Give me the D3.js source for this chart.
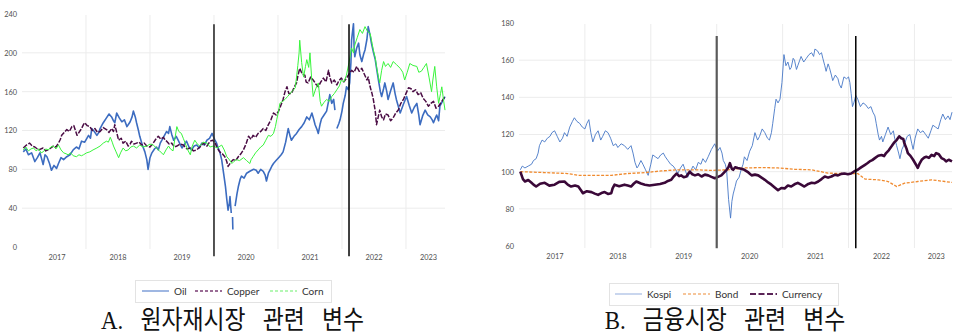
<!DOCTYPE html>
<html>
<head>
<meta charset="utf-8">
<script src="https://cdn.jsdelivr.net/npm/d3@7"></script>
<style>
  html, body { margin: 0; padding: 0; background: #fff; }
  svg { display: block; }
</style>
</head>
<body>
<svg id="chart" width="956" height="334"></svg>
<script>
// ---- Data: indices rebased to 100, x = decimal year ----
const yearTicks = [2017, 2018, 2019, 2020, 2021, 2022, 2023];
const eventYears = [2020.0, 2022.11];

// Panel A: commodity markets
const leftYTicks = [0, 40, 80, 120, 160, 200, 240];
const oilSeries = [
  [2017.02,98],[2017.06,101],[2017.10,95],[2017.15,97],[2017.20,88],[2017.24,92],[2017.28,97],[2017.31,90],[2017.33,85],[2017.36,95],
  [2017.39,93],[2017.43,86],[2017.46,79],[2017.50,84],[2017.54,81],[2017.57,86],[2017.61,92],[2017.65,90],[2017.70,93],[2017.75,95],
  [2017.80,100],[2017.85,103],[2017.89,101],[2017.93,109],[2017.98,108],[2018.04,115],[2018.07,112],[2018.09,122],[2018.13,119],[2018.17,115],
  [2018.20,118],[2018.22,122],[2018.27,128],[2018.32,133],[2018.36,137],[2018.40,134],[2018.43,130],[2018.45,128],[2018.48,138],[2018.52,133],
  [2018.56,129],[2018.60,131],[2018.64,124],[2018.67,127],[2018.69,129],[2018.72,134],[2018.74,140],[2018.77,134],[2018.79,128],[2018.82,120],
  [2018.84,114],[2018.88,105],[2018.92,98],[2018.95,90],[2018.97,80],[2019.00,92],[2019.03,97],[2019.07,101],[2019.10,103],[2019.13,100],
  [2019.16,107],[2019.21,113],[2019.26,119],[2019.29,117],[2019.31,124],[2019.34,116],[2019.37,110],[2019.41,114],[2019.44,110],[2019.47,106],
  [2019.50,102],[2019.54,106],[2019.57,109],[2019.61,103],[2019.65,100],[2019.69,104],[2019.73,105],[2019.77,102],[2019.81,107],[2019.85,105],
  [2019.89,110],[2019.93,112],[2019.97,117],[2020.01,111],[2020.04,107],[2020.07,101],[2020.09,98],[2020.12,90],[2020.15,76],[2020.18,62],
  [2020.20,49],[2020.22,38],[2020.24,45],[2020.25,52],[2020.27,35],[2020.28,null],[2020.29,31],[2020.295,18],[2020.31,null],[2020.33,42],
  [2020.36,55],[2020.38,62],[2020.41,70],[2020.43,73],[2020.47,71],[2020.51,76],[2020.56,78],[2020.62,80],[2020.66,79],[2020.69,76],
  [2020.73,80],[2020.77,78],[2020.80,74],[2020.82,68],[2020.85,76],[2020.88,80],[2020.91,84],[2020.93,86],[2020.97,89],[2021.01,92],
  [2021.05,95],[2021.08,98],[2021.12,108],[2021.16,122],[2021.19,114],[2021.21,110],[2021.25,114],[2021.29,117],[2021.33,121],[2021.37,124],
  [2021.41,128],[2021.45,134],[2021.49,131],[2021.53,138],[2021.56,131],[2021.58,126],[2021.61,121],[2021.63,117],[2021.66,127],[2021.68,132],
  [2021.72,136],[2021.76,140],[2021.79,150],[2021.81,157],[2021.84,148],[2021.87,152],[2021.89,141],[2021.90,null],[2021.92,122],[2021.95,127],
  [2021.97,131],[2022.00,140],[2022.02,148],[2022.05,156],[2022.07,165],[2022.10,162],[2022.12,169],[2022.14,190],[2022.15,213],[2022.18,230],
  [2022.19,205],[2022.20,196],[2022.23,205],[2022.26,210],[2022.28,198],[2022.31,191],[2022.34,199],[2022.36,203],[2022.39,214],[2022.41,227],
  [2022.44,218],[2022.46,210],[2022.49,201],[2022.52,193],[2022.55,180],[2022.57,172],[2022.60,160],[2022.62,155],[2022.65,163],[2022.67,169],
  [2022.70,160],[2022.72,152],[2022.76,161],[2022.80,169],[2022.83,158],[2022.85,152],[2022.88,145],[2022.91,138],[2022.96,147],[2023.01,155],
  [2023.05,146],[2023.09,138],[2023.13,144],[2023.17,148],[2023.20,136],[2023.22,126],[2023.26,135],[2023.30,141],[2023.34,136],[2023.38,134],
  [2023.41,131],[2023.43,128],[2023.46,133],[2023.48,136],[2023.51,130],[2023.53,145],[2023.57,150],[2023.61,155]
];
const copperSeries = [
  [2017.02,102],[2017.07,105],[2017.12,107],[2017.16,104],[2017.20,103],[2017.26,100],[2017.33,102],[2017.37,99],[2017.41,100],[2017.45,102],
  [2017.49,104],[2017.53,103],[2017.57,107],[2017.60,111],[2017.62,115],[2017.66,118],[2017.70,121],[2017.74,119],[2017.78,124],[2017.81,125],
  [2017.83,121],[2017.86,115],[2017.88,117],[2017.91,120],[2017.93,122],[2017.96,126],[2017.98,128],[2018.02,125],[2018.06,124],[2018.10,120],
  [2018.14,122],[2018.18,118],[2018.22,119],[2018.27,123],[2018.32,121],[2018.36,118],[2018.40,122],[2018.43,119],[2018.45,126],[2018.48,118],
  [2018.51,110],[2018.55,112],[2018.58,107],[2018.62,109],[2018.66,104],[2018.69,106],[2018.71,109],[2018.75,106],[2018.79,107],[2018.83,108],
  [2018.87,105],[2018.91,107],[2018.95,104],[2019.00,103],[2019.05,107],[2019.09,111],[2019.13,114],[2019.17,111],[2019.21,113],[2019.24,110],
  [2019.26,109],[2019.30,106],[2019.34,107],[2019.38,103],[2019.42,104],[2019.47,106],[2019.52,105],[2019.58,101],[2019.63,102],[2019.68,99],
  [2019.73,100],[2019.78,103],[2019.83,107],[2019.89,104],[2019.94,109],[2019.98,110],[2020.02,107],[2020.05,102],[2020.09,98],[2020.13,96],
  [2020.17,93],[2020.20,88],[2020.22,83],[2020.26,87],[2020.30,90],[2020.34,89],[2020.38,93],[2020.42,96],[2020.46,100],[2020.50,106],
  [2020.54,114],[2020.58,111],[2020.61,115],[2020.65,113],[2020.69,117],[2020.73,119],[2020.77,122],[2020.81,120],[2020.85,126],[2020.89,131],
  [2020.93,138],[2020.97,136],[2021.01,140],[2021.04,145],[2021.08,152],[2021.11,160],[2021.14,165],[2021.17,158],[2021.21,158],[2021.25,164],
  [2021.29,169],[2021.31,176],[2021.34,184],[2021.38,178],[2021.42,177],[2021.44,170],[2021.47,169],[2021.51,175],[2021.55,172],[2021.59,168],
  [2021.63,165],[2021.67,170],[2021.71,174],[2021.75,170],[2021.79,182],[2021.81,175],[2021.84,169],[2021.88,172],[2021.92,167],[2021.95,171],
  [2021.99,174],[2022.03,170],[2022.07,174],[2022.11,178],[2022.15,182],[2022.19,180],[2022.23,186],[2022.27,181],[2022.31,184],[2022.35,178],
  [2022.39,172],[2022.41,175],[2022.44,165],[2022.47,158],[2022.49,152],[2022.52,140],[2022.54,126],[2022.57,135],[2022.59,141],[2022.62,134],
  [2022.65,131],[2022.68,137],[2022.72,136],[2022.76,130],[2022.80,133],[2022.84,138],[2022.88,141],[2022.92,148],[2022.96,152],[2023.00,158],
  [2023.04,164],[2023.08,163],[2023.11,160],[2023.15,162],[2023.19,157],[2023.23,159],[2023.27,153],[2023.31,150],[2023.35,145],[2023.39,148],
  [2023.43,150],[2023.47,143],[2023.51,145],[2023.56,150],[2023.61,155]
];
const cornSeries = [
  [2017.02,100],[2017.06,103],[2017.10,99],[2017.14,101],[2017.18,102],[2017.22,99],[2017.26,101],[2017.30,97],[2017.33,98],[2017.37,101],
  [2017.41,100],[2017.45,103],[2017.49,104],[2017.53,101],[2017.57,105],[2017.61,100],[2017.65,97],[2017.69,96],[2017.72,95],[2017.76,97],
  [2017.80,94],[2017.85,93],[2017.89,95],[2017.93,94],[2017.96,95],[2018.01,97],[2018.06,98],[2018.11,100],[2018.17,102],[2018.22,104],
  [2018.27,107],[2018.32,109],[2018.35,108],[2018.38,113],[2018.41,108],[2018.43,104],[2018.47,98],[2018.51,92],[2018.54,97],[2018.58,102],
  [2018.62,99],[2018.66,100],[2018.70,103],[2018.74,104],[2018.79,102],[2018.84,105],[2018.89,103],[2018.95,104],[2019.00,106],[2019.05,105],
  [2019.10,102],[2019.15,99],[2019.21,95],[2019.25,100],[2019.29,104],[2019.32,101],[2019.36,99],[2019.39,112],[2019.42,124],[2019.45,119],
  [2019.49,117],[2019.52,112],[2019.55,107],[2019.59,100],[2019.63,95],[2019.66,104],[2019.70,110],[2019.74,106],[2019.78,104],[2019.83,108],
  [2019.89,107],[2019.94,103],[2019.99,104],[2020.05,102],[2020.12,105],[2020.16,100],[2020.20,93],[2020.24,90],[2020.28,86],[2020.31,88],
  [2020.35,90],[2020.40,89],[2020.46,92],[2020.51,89],[2020.56,86],[2020.58,90],[2020.61,93],[2020.65,97],[2020.69,100],[2020.73,103],
  [2020.77,105],[2020.81,110],[2020.85,115],[2020.89,114],[2020.93,117],[2020.96,124],[2020.98,131],[2021.01,140],[2021.03,148],[2021.07,150],
  [2021.11,152],[2021.15,155],[2021.19,158],[2021.23,161],[2021.27,164],[2021.29,175],[2021.31,187],[2021.33,200],[2021.34,213],[2021.37,190],
  [2021.40,175],[2021.43,186],[2021.45,193],[2021.48,185],[2021.50,200],[2021.53,170],[2021.55,155],[2021.59,163],[2021.63,169],[2021.66,150],
  [2021.68,145],[2021.72,149],[2021.76,152],[2021.80,150],[2021.84,155],[2021.88,158],[2021.92,162],[2021.96,166],[2021.99,172],[2022.03,170],
  [2022.07,177],[2022.11,190],[2022.15,205],[2022.18,200],[2022.20,208],[2022.24,216],[2022.28,224],[2022.32,220],[2022.36,227],[2022.40,222],
  [2022.44,220],[2022.47,210],[2022.49,203],[2022.52,195],[2022.54,186],[2022.57,175],[2022.59,169],[2022.62,182],[2022.65,191],[2022.68,186],
  [2022.72,189],[2022.76,185],[2022.80,191],[2022.85,188],[2022.91,184],[2022.95,180],[2022.98,172],[2023.02,180],[2023.06,189],[2023.11,187],
  [2023.17,186],[2023.20,180],[2023.24,181],[2023.28,185],[2023.32,189],[2023.36,175],[2023.40,160],[2023.42,172],[2023.45,186],[2023.48,165],
  [2023.51,148],[2023.54,158],[2023.56,165],[2023.59,150],[2023.61,141]
];

// Panel B: financial markets
const rightYTicks = [60, 80, 100, 120, 140, 160, 180];
const kospiSeries = [
  [2017.02,101],[2017.05,103],[2017.09,102],[2017.14,103],[2017.19,104],[2017.22,106],[2017.26,107],[2017.29,110],[2017.31,114],[2017.35,117],
  [2017.39,116],[2017.43,118],[2017.47,119],[2017.50,121],[2017.54,122],[2017.58,119],[2017.62,116],[2017.66,118],[2017.69,121],[2017.73,119],
  [2017.77,124],[2017.81,127],[2017.84,129],[2017.88,127],[2017.92,126],[2017.96,124],[2018.00,123],[2018.03,126],[2018.06,128],[2018.09,121],
  [2018.12,116],[2018.16,120],[2018.20,122],[2018.24,117],[2018.27,119],[2018.31,122],[2018.35,121],[2018.39,118],[2018.43,114],[2018.47,115],
  [2018.50,113],[2018.55,115],[2018.60,114],[2018.65,112],[2018.70,114],[2018.73,110],[2018.76,105],[2018.79,102],[2018.81,103],[2018.85,106],
  [2018.88,104],[2018.92,101],[2018.96,98],[2019.00,104],[2019.03,109],[2019.07,108],[2019.11,107],[2019.15,109],[2019.19,110],[2019.22,108],
  [2019.26,106],[2019.30,104],[2019.34,103],[2019.38,101],[2019.41,99],[2019.45,102],[2019.49,104],[2019.53,100],[2019.56,97],[2019.60,100],
  [2019.64,103],[2019.68,101],[2019.72,105],[2019.76,104],[2019.79,107],[2019.83,105],[2019.87,108],[2019.92,112],[2019.97,115],[2020.01,111],
  [2020.05,113],[2020.08,110],[2020.10,106],[2020.13,104],[2020.15,101],[2020.18,85],[2020.21,75],[2020.23,84],[2020.25,88],[2020.28,92],
  [2020.30,95],[2020.34,97],[2020.37,101],[2020.40,104],[2020.42,108],[2020.46,106],[2020.50,111],[2020.54,114],[2020.58,121],[2020.62,117],
  [2020.65,119],[2020.69,123],[2020.73,121],[2020.77,118],[2020.80,117],[2020.83,121],[2020.85,126],[2020.88,134],[2020.90,139],[2020.93,137],
  [2020.96,139],[2020.99,148],[2021.01,158],[2021.02,163],[2021.05,157],[2021.08,159],[2021.11,155],[2021.13,156],[2021.16,161],[2021.18,160],
  [2021.21,155],[2021.23,157],[2021.26,160],[2021.28,162],[2021.32,159],[2021.36,161],[2021.40,163],[2021.44,164],[2021.47,162],[2021.49,166],
  [2021.53,165],[2021.56,163],[2021.59,164],[2021.61,161],[2021.64,157],[2021.66,154],[2021.69,158],[2021.71,156],[2021.74,152],[2021.76,149],
  [2021.80,152],[2021.84,150],[2021.86,147],[2021.89,145],[2021.93,151],[2021.97,150],[2022.00,151],[2022.02,148],[2022.04,142],[2022.06,135],
  [2022.08,137],[2022.11,141],[2022.14,139],[2022.18,135],[2022.22,137],[2022.26,136],[2022.30,134],[2022.34,135],[2022.37,132],[2022.40,130],
  [2022.42,126],[2022.45,120],[2022.47,117],[2022.50,119],[2022.52,116],[2022.56,120],[2022.60,124],[2022.64,120],[2022.68,122],[2022.70,118],
  [2022.73,114],[2022.76,110],[2022.78,107],[2022.81,112],[2022.85,115],[2022.89,119],[2022.93,120],[2022.96,115],[2022.98,112],[2023.01,118],
  [2023.05,123],[2023.09,121],[2023.13,122],[2023.17,120],[2023.21,118],[2023.25,122],[2023.28,125],[2023.32,124],[2023.36,123],[2023.40,128],
  [2023.43,131],[2023.47,128],[2023.51,130],[2023.54,128],[2023.57,132]
];
const bondSeries = [
  [2017.02,100],[2017.39,99.5],[2017.74,99],[2017.90,98],[2018.15,98],[2018.40,98],[2018.65,99],[2018.91,99.5],
  [2019.16,100.4],[2019.41,101],[2019.67,101],[2019.92,100.7],[2020.17,101],[2020.42,102],[2020.68,102.2],[2020.93,102],
  [2021.18,101.3],[2021.44,101],[2021.69,99.2],[2021.94,99],[2022.14,99],[2022.25,96],[2022.45,95.6],[2022.60,94.7],
  [2022.73,92],[2022.85,93.8],[2023.05,94.7],[2023.26,95.6],[2023.46,94.7],[2023.57,94.2]
];
const currencySeries = [
  [2017.02,100],[2017.06,96],[2017.09,94.7],[2017.14,95.5],[2017.19,94],[2017.22,93],[2017.26,92],[2017.32,93.5],[2017.39,94],[2017.46,92.5],
  [2017.54,93],[2017.61,94.5],[2017.69,94.7],[2017.74,93],[2017.79,92],[2017.85,92.5],[2017.90,92],[2017.94,90],[2017.97,88.4],[2018.03,89.5],
  [2018.10,89],[2018.15,88.2],[2018.20,87.5],[2018.25,88.5],[2018.30,89],[2018.35,88],[2018.40,88.4],[2018.42,91],[2018.45,93],[2018.52,92.2],
  [2018.60,93],[2018.65,92.5],[2018.70,92],[2018.74,93.5],[2018.78,94.7],[2018.85,93.6],[2018.91,93],[2018.98,92.6],[2019.06,93],[2019.14,93.4],
  [2019.21,94],[2019.26,95],[2019.31,95.6],[2019.35,97.5],[2019.39,99],[2019.43,97.6],[2019.46,98],[2019.50,97],[2019.54,97.4],[2019.57,99],
  [2019.59,100],[2019.63,98.6],[2019.67,98],[2019.72,98.6],[2019.77,97.4],[2019.82,98.4],[2019.87,98],[2019.92,97.2],[2019.97,96.5],[2020.02,97.2],
  [2020.07,98],[2020.11,99.5],[2020.15,101],[2020.18,102.5],[2020.20,104.6],[2020.23,101.5],[2020.25,101],[2020.28,102.4],[2020.32,102],[2020.37,101.6],
  [2020.42,101],[2020.48,99.6],[2020.53,98],[2020.58,98.4],[2020.63,98],[2020.68,96.8],[2020.73,95.6],[2020.78,94.2],[2020.83,93],[2020.88,91.5],
  [2020.93,90],[2020.98,91.2],[2021.03,91],[2021.08,92.5],[2021.13,92],[2021.18,93.2],[2021.23,94],[2021.28,93],[2021.33,92],[2021.39,93.4],
  [2021.44,94],[2021.49,93.8],[2021.54,94.7],[2021.59,96],[2021.64,97.4],[2021.69,96.8],[2021.74,97.4],[2021.79,98.3],[2021.84,98],[2021.89,98.8],
  [2021.94,99],[2021.99,98.6],[2022.04,99],[2022.09,100.2],[2022.14,101],[2022.19,102.3],[2022.25,103.7],[2022.28,104.4],[2022.32,105.5],[2022.36,106.2],
  [2022.40,107.3],[2022.45,108.6],[2022.50,109],[2022.54,108.4],[2022.57,110],[2022.61,111.5],[2022.65,113.5],[2022.69,115.6],[2022.73,117],[2022.77,119],
  [2022.80,118],[2022.83,117.6],[2022.85,115],[2022.88,112.4],[2022.90,110],[2022.94,108.5],[2022.98,106.4],[2023.02,104],[2023.05,102],[2023.08,104.5],
  [2023.11,106.4],[2023.15,107.6],[2023.18,108],[2023.22,107.4],[2023.26,109],[2023.30,108.4],[2023.33,110],[2023.37,109.4],[2023.41,107.3],[2023.45,106.6],
  [2023.48,105.5],[2023.52,106.4],[2023.57,105.5]
];

// ---- Panel layout and styles ----
const FONT = "Lato, 'Open Sans', sans-serif";
const panels = [
  {
    x0: 22, x1: 445, yTop: 14, yBot: 247, domainEnd: 2023.61,
    yDomain: [0, 240], yTicks: leftYTicks, gridTicks: [40, 80, 120, 160, 200],
    eventTop: 229.5, eventBottom: -9.5, eventStyles: [{c: "#2b2b2b", w: 1.6}, {c: "#000", w: 1.5}],
    caption: "A. 원자재시장 관련 변수", captionX: 232.5,
    legendBox: [135, 280, 196, 22], legendY: 291,
    series: [
      {name: "Oil", data: oilSeries, color: "#3c6cc0", width: 1.6, dash: null, legendColor: "#7f9fd8", legendDash: null, lx: 142},
      {name: "Copper", data: copperSeries, color: "#4a0c44", width: 1.5, dash: "5,1.5", legendColor: "#7a3d73", legendDash: "3,2", lx: 195},
      {name: "Corn", data: cornSeries, color: "#39f53c", width: 1.0, dash: null, legendColor: "#9cf59c", legendDash: "3,2", lx: 270}
    ]
  },
  {
    x0: 519, x1: 952, yTop: 23, yBot: 246, domainEnd: 2023.57,
    yDomain: [60, 180], yTicks: rightYTicks, gridTicks: [80, 100, 120, 140, 160],
    eventTop: 173, eventBottom: 58.8, eventStyles: [{c: "#5a5a5a", w: 2.2}, {c: "#000", w: 1.5}],
    caption: "B. 금융시장 관련 변수", captionX: 725,
    legendBox: [609, 283, 229, 22], legendY: 294,
    series: [
      {name: "Kospi", data: kospiSeries, color: "#4677c6", width: 0.9, dash: null, legendColor: "#b7c9e8", legendDash: null, lx: 615},
      {name: "Bond", data: bondSeries, color: "#f08a2e", width: 1.3, dash: "3,1.5", legendColor: "#f4b27a", legendDash: "3,2", lx: 683},
      {name: "Currency", data: currencySeries, color: "#3a0838", width: 2.6, dash: null, legendColor: "#5a2457", legendDash: "6,2.5", lx: 750}
    ]
  }
];

const svg = d3.select("#chart");

panels.forEach(p => {
  const x = d3.scaleLinear().domain([2017, p.domainEnd]).range([p.x0, p.x1]);
  const y = d3.scaleLinear().domain(p.yDomain).range([p.yBot, p.yTop]);
  const g = svg.append("g");

  // horizontal gridlines
  g.selectAll(".hgrid").data(p.gridTicks).join("line")
    .attr("x1", p.x0).attr("x2", p.x1)
    .attr("y1", d => y(d)).attr("y2", d => y(d))
    .attr("stroke", "#ececec").attr("stroke-width", 1);

  // vertical gridlines at year starts
  g.selectAll(".vgrid").data(yearTicks.filter(t => t > 2017)).join("line")
    .attr("x1", d => x(d)).attr("x2", d => x(d))
    .attr("y1", p.yTop + 1).attr("y2", p.yBot + 2)
    .attr("stroke", "#ececec").attr("stroke-width", 1);

  // y axis labels
  const yAxis = d3.axisLeft(y).tickValues(p.yTicks).tickSize(0).tickPadding(5);
  const ya = g.append("g").attr("transform", `translate(${p.x0},0)`).call(yAxis);
  ya.select(".domain").remove();
  ya.selectAll("text").style("font-family", FONT).style("font-size", "7.4px").attr("fill", "#505050");

  // year labels centred on the visible part of each year
  const [d0, d1] = x.domain();
  g.selectAll(".ylab").data(yearTicks).join("text")
    .attr("x", d => x((Math.max(d, d0) + Math.min(d + 1, d1)) / 2) + (d === d0 || d + 1 > d1 ? 3 : 0))
    .attr("y", p.yBot + 13)
    .attr("text-anchor", "middle")
    .style("font-family", FONT).style("font-size", "7.4px").attr("fill", "#505050")
    .text(d => d);

  // series
  const line = d3.line().defined(d => d[1] != null).x(d => x(d[0])).y(d => y(d[1]));
  p.series.forEach(s => {
    g.append("path").datum(s.data)
      .attr("d", line)
      .attr("fill", "none")
      .attr("stroke", s.color)
      .attr("stroke-width", s.width)
      .attr("stroke-linejoin", "round")
      .attr("stroke-dasharray", s.dash);
  });

  // event markers
  g.selectAll(".event").data(eventYears).join("line")
    .attr("x1", d => x(d)).attr("x2", d => x(d))
    .attr("y1", y(p.eventTop)).attr("y2", y(p.eventBottom))
    .attr("stroke", (d, i) => p.eventStyles[i].c)
    .attr("stroke-width", (d, i) => p.eventStyles[i].w);

  // legend
  const [bx, by, bw, bh] = p.legendBox;
  g.append("rect").attr("x", bx + 0.5).attr("y", by + 0.5).attr("width", bw).attr("height", bh)
    .attr("fill", "#fff").attr("stroke", "#e3e3e3");
  p.series.forEach(s => {
    g.append("line")
      .attr("x1", s.lx).attr("x2", s.lx + 27)
      .attr("y1", p.legendY).attr("y2", p.legendY)
      .attr("stroke", s.legendColor).attr("stroke-width", s.name === "Currency" ? 2 : 1.5)
      .attr("stroke-dasharray", s.legendDash);
    g.append("text")
      .attr("x", s.lx + 32).attr("y", p.legendY + 3.5)
      .style("font-family", FONT).style("font-size", "10px").attr("fill", "#333")
      .text(s.name);
  });

  // caption
  svg.append("text")
    .attr("transform", `translate(${p.captionX},328.5) scale(0.88,1)`)
    .attr("text-anchor", "middle")
    .attr("word-spacing", "13px")
    .style("font-family", "'Liberation Serif', 'Noto Sans CJK KR', serif")
    .style("font-size", "26px").attr("fill", "#111")
    .text(p.caption);
});
</script>
</body>
</html>
